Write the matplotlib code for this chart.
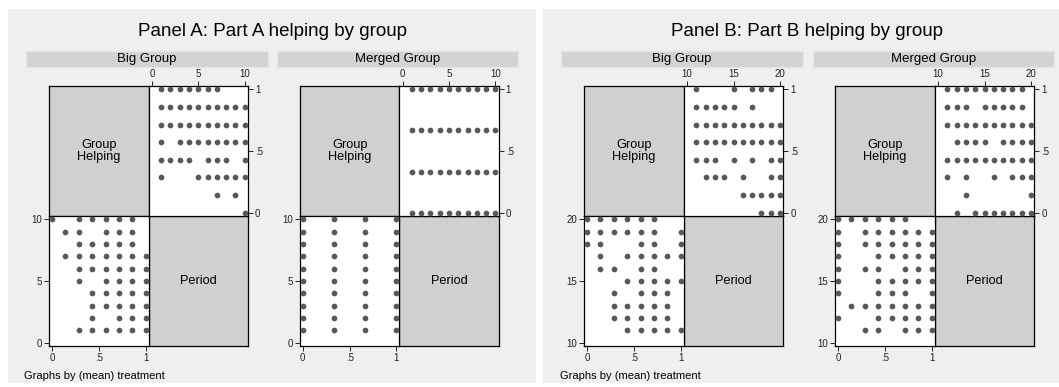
import matplotlib
matplotlib.use("Agg")
import matplotlib.pyplot as plt
from matplotlib.patches import Rectangle

plt.rcParams['font.family'] = ['Liberation Sans', 'DejaVu Sans']

W, H = 1059, 387

# group helping is recorded as a share of group members: levels are k/denominator
periods_a = [1, 2, 3, 4, 5, 6, 7, 8, 9, 10]
periods_b = [11, 12, 13, 14, 15, 16, 17, 18, 19, 20]

# Panel A, Big Group (sevenths), one list per period
a_big = [
    [2, 3, 4, 5, 6, 7],
    [3, 5, 6, 7],
    [3, 4, 5, 6, 7],
    [3, 4, 5, 6, 7],
    [2, 4, 5, 6, 7],
    [2, 3, 4, 5, 6, 7],
    [1, 2, 3, 4, 5, 6, 7],
    [2, 3, 4, 5, 6],
    [1, 2, 4, 5, 6],
    [0, 2, 3, 4, 5, 6],
]
# Panel A, Merged Group (thirds)
a_merged = [[0, 1, 2, 3]] * 10

# Panel B, Big Group (sevenths)
b_big = [
    [3, 4, 5, 6, 7],
    [2, 3, 4, 5, 6],
    [2, 3, 4, 5, 6],
    [2, 4, 5, 6],
    [3, 4, 5, 6, 7],
    [1, 2, 4, 5],
    [1, 3, 4, 5, 6, 7],
    [0, 1, 4, 5, 7],
    [0, 1, 2, 3, 4, 5, 7],
    [0, 1, 2, 3, 4, 5],
]
# Panel B, Merged Group (sevenths)
b_merged = [
    [2, 3, 5, 6, 7],
    [0, 3, 4, 5, 6, 7],
    [1, 2, 3, 4, 5, 6, 7],
    [0, 3, 4, 5, 7],
    [0, 3, 4, 5, 6, 7],
    [0, 2, 3, 5, 6, 7],
    [0, 3, 4, 5, 6, 7],
    [0, 2, 3, 4, 5, 6, 7],
    [0, 2, 3, 4, 5, 6, 7],
    [0, 1, 2, 3, 4, 5],
]

titles = ["Panel A: Part A helping by group", "Panel B: Part B helping by group"]
groups = ["Big Group", "Merged Group"]
period_ticks_a = [0, 5, 10]
period_ticks_b = [10, 15, 20]
help_ticks = [0, 0.5, 1]
help_ticklabels = ["0", ".5", "1"]

DOT = '#585858'
DIAG = '#d0d0d0'
BG = '#efefef'


def rect(x0, y0, x1, y1):
    # pixel box (top-left origin) -> figure fraction
    return [x0 / W, 1 - y1 / H, (x1 - x0) / W, (y1 - y0) / H]


def style_ax(ax):
    for s in ax.spines.values():
        s.set_linewidth(0.9)
        s.set_color('black')
    ax.tick_params(direction='out', length=3.5, width=0.7, labelsize=7,
                   pad=1.5, colors='#222222')


def draw_matrix(fig, xs, ys, periods, levels, denom, plim, pticks):
    x0, x1, x2 = xs
    y0, y1, y2 = ys
    per, hlp = [], []
    for p, ks in zip(periods, levels):
        for k in ks:
            per.append(p)
            hlp.append(k / denom)

    # diagonal cells
    for box, label in [((x0, y0, x1, y1), "Group\nHelping"),
                       ((x1, y1, x2, y2), "Period")]:
        ax = fig.add_axes(rect(*box))
        ax.set_facecolor(DIAG)
        ax.set_xticks([])
        ax.set_yticks([])
        style_ax(ax)
        ax.text(0.5, 0.5, label, transform=ax.transAxes, ha='center',
                va='center', fontsize=9.2, linespacing=0.9)

    # lower-left: helping (x) vs period (y)
    ax = fig.add_axes(rect(x0, y1, x1, y2))
    ax.scatter(hlp, per, s=17, color=DOT, linewidths=0, zorder=3)
    ax.set_xlim(-0.03, 1.03)
    ax.set_ylim(plim[0] - 0.028 * (plim[1] - plim[0]),
                plim[1] + 0.028 * (plim[1] - plim[0]))
    ax.set_xticks(help_ticks)
    ax.set_xticklabels(help_ticklabels)
    ax.set_yticks(pticks)
    style_ax(ax)

    # upper-right: period (x) vs helping (y)
    ax = fig.add_axes(rect(x1, y0, x2, y1))
    ax.scatter(per, hlp, s=17, color=DOT, linewidths=0, zorder=3)
    ax.set_xlim(plim[0] - 0.036 * (plim[1] - plim[0]),
                plim[1] + 0.036 * (plim[1] - plim[0]))
    ax.set_ylim(-0.028, 1.028)
    ax.set_xticks(pticks)
    ax.set_yticks(help_ticks)
    ax.set_yticklabels(help_ticklabels)
    ax.xaxis.tick_top()
    ax.yaxis.tick_right()
    style_ax(ax)


fig = plt.figure(figsize=(W / 100, H / 100), dpi=100)
fig.patch.set_facecolor('white')

# panel backgrounds
for bx0, bx1 in [(8, 536), (543, 1059)]:
    fig.patches.append(Rectangle((bx0 / W, 1 - 383 / H), (bx1 - bx0) / W,
                                 (383 - 9) / H, transform=fig.transFigure,
                                 facecolor=BG, edgecolor='none', zorder=-10))

panels = [
    dict(title_x=272, strips=[(26, 268), (277, 518)],
         mats=[(49.3, 148.6, 248), (300, 399.3, 498.7)],
         periods=periods_a, data=[a_big, a_merged], denoms=[7, 3],
         plim=(0, 10), pticks=period_ticks_a, note_x=24),
    dict(title_x=807, strips=[(561, 803), (813, 1054)],
         mats=[(584, 683.7, 783.4), (835, 934.7, 1034.4)],
         periods=periods_b, data=[b_big, b_merged], denoms=[7, 7],
         plim=(10, 20), pticks=period_ticks_b, note_x=560),
]

for title, pan in zip(titles, panels):
    fig.text(pan['title_x'] / W, 1 - 32 / H, title, ha='center', va='center',
             fontsize=13.5, color='black')
    for g, (sx0, sx1), xs, lev, den in zip(groups, pan['strips'], pan['mats'],
                                           pan['data'], pan['denoms']):
        fig.patches.append(Rectangle((sx0 / W, 1 - 67 / H), (sx1 - sx0) / W,
                                     16 / H, transform=fig.transFigure,
                                     facecolor='#d3d3d3', edgecolor='#dfe6ec',
                                     linewidth=1, zorder=-5))
        fig.text((sx0 + sx1) / 2 / W, 1 - 59 / H, g, ha='center', va='center',
                 fontsize=9.5)
        draw_matrix(fig, xs, (86, 216, 346), pan['periods'], lev, den,
                    pan['plim'], pan['pticks'])
    fig.text(pan['note_x'] / W, 1 - 376 / H, "Graphs by (mean) treatment",
             ha='left', va='center', fontsize=8)

fig.savefig("out.png", dpi=100, facecolor=fig.get_facecolor())
